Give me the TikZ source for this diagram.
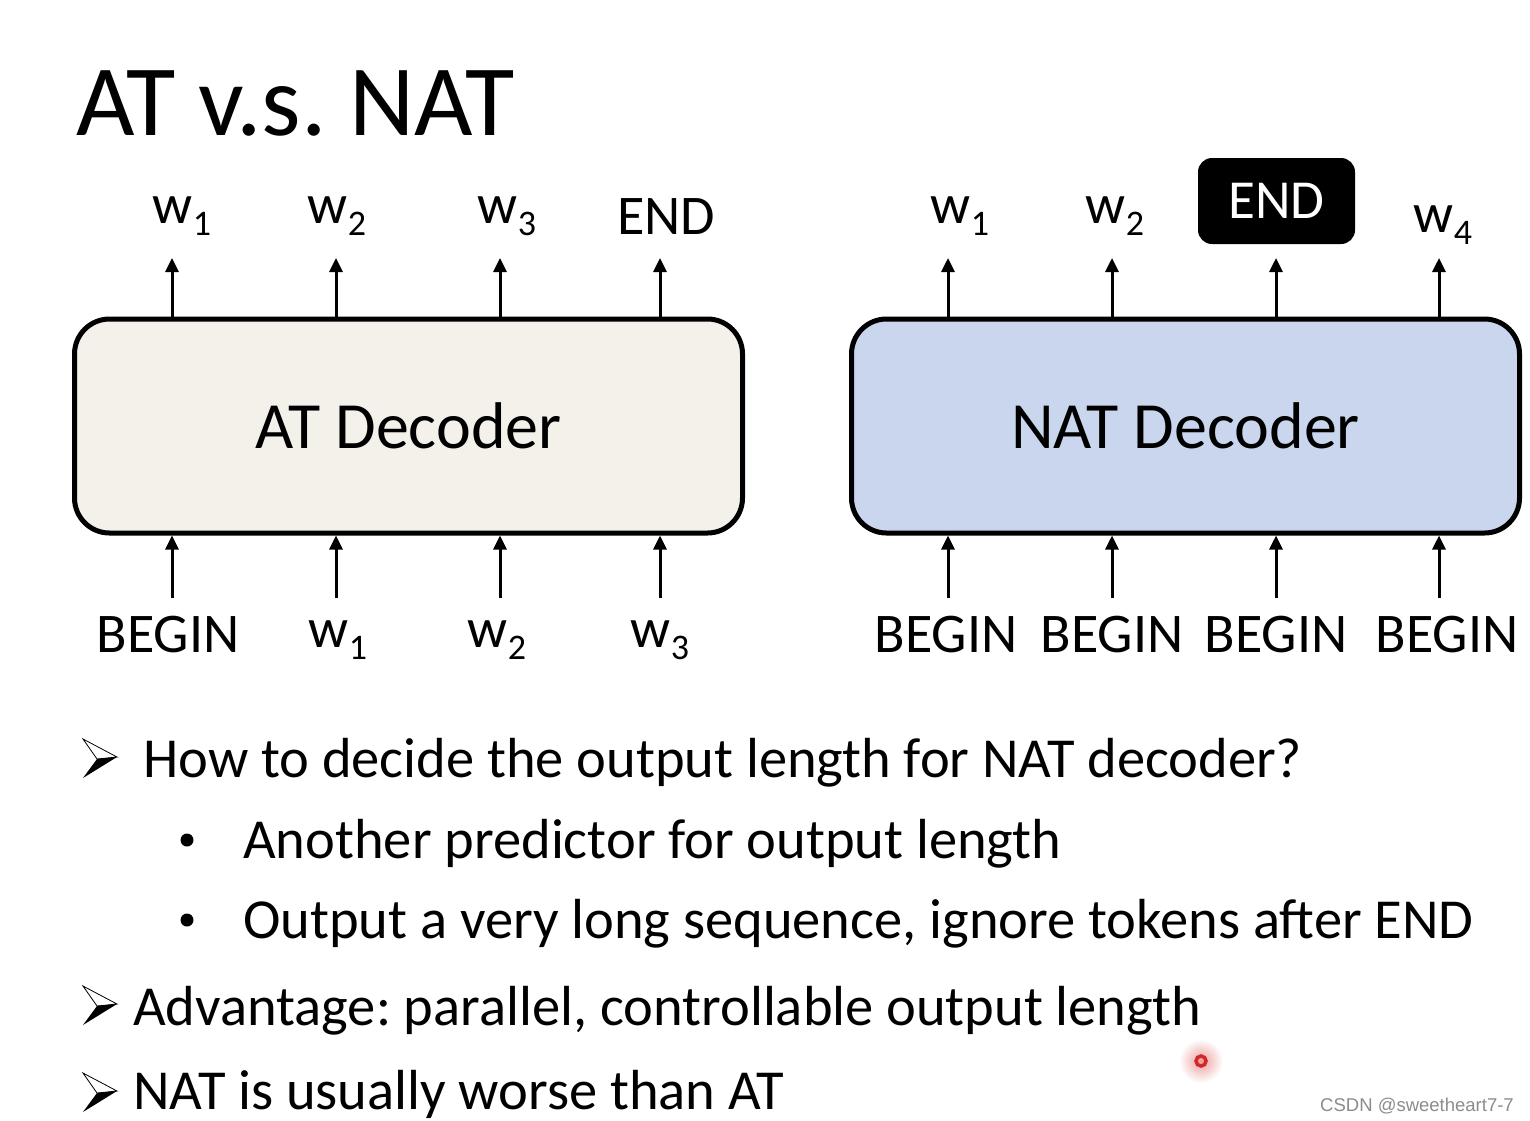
\documentclass[tikz,border=0pt]{standalone}
\usepackage{fontspec}
\setmainfont{Carlito}
\newfontfamily\wmfont{Liberation Sans}
\usetikzlibrary{arrows.meta}
\definecolor{atfill}{RGB}{244,240,234}
\definecolor{natfill}{RGB}{201,214,238}
\definecolor{wmgray}{RGB}{140,140,140}
\definecolor{dotred}{RGB}{212,40,40}
\newcommand{\wsub}[2]{#1\raisebox{-12pt}{\fontsize{36}{38}\selectfont #2}}
\frenchspacing
\tikzset{
  decbox/.style={draw, line width=5pt, rounded corners=35pt, minimum width=668pt,
    minimum height=214pt, inner sep=0pt, font=\fontsize{66}{68}\selectfont},
  lbl/.style={font=\fontsize{56}{60}\selectfont, inner sep=0pt, anchor=base},
  arr/.style={line width=3pt, -{Triangle[width=13pt,length=14pt]}},
  btxt/.style={font=\fontsize{56.5}{58}\selectfont, inner sep=0pt, anchor=base west},
  endbox/.style={fill=black, rounded corners=14pt, minimum width=157pt, minimum height=86pt,
    inner sep=0pt, text=white, font=\fontsize{55}{58}\selectfont},
  barrow/.pic={
    \draw[line width=0.8pt, fill=white, line join=miter] (0,0) -- (34,18) -- (14,20) -- cycle;
    \fill[black] (14,20) -- (34,18) -- (0,39) -- cycle;
  }
}
\begin{document}
\begin{tikzpicture}[x=1pt,y=-1pt]
\useasboundingbox (0,0) rectangle (1530,1120);
\fill[white] (0,0) rectangle (1530,1120);

% title
\node[font=\fontsize{101}{104}\selectfont, inner sep=0pt, anchor=base west] (title) at (76,135) {AT v.s. NAT};

% decoder boxes
\node[decbox, fill=atfill] (at) at (408.5,426) {AT Decoder};
\node[decbox, fill=natfill] (nat) at (1185.5,426) {NAT Decoder};

% AT top labels
\node[lbl] (ato1) at (182,223) {\wsub{w}{1}};
\node[lbl] (ato2) at (337,223) {\wsub{w}{2}};
\node[lbl] (ato3) at (507,223) {\wsub{w}{3}};
\node[lbl] (ato4) at (666,234) {END};
% AT bottom labels
\node[lbl] (ati1) at (168,652) {BEGIN};
\node[lbl] (ati2) at (338,647) {\wsub{w}{1}};
\node[lbl] (ati3) at (497,647) {\wsub{w}{2}};
\node[lbl] (ati4) at (660,647) {\wsub{w}{3}};

% NAT top labels
\node[lbl] (nto1) at (960,223) {\wsub{w}{1}};
\node[lbl] (nto2) at (1115,223) {\wsub{w}{2}};
\node[endbox] (nto3) at (1276.5,201) {END};
\node[lbl] (nto4) at (1443,232) {\wsub{w}{4}};
% NAT bottom labels
\node[lbl] (nti1) at (946,652) {BEGIN};
\node[lbl] (nti2) at (1112,652) {BEGIN};
\node[lbl] (nti3) at (1276,652) {BEGIN};
\node[lbl] (nti4) at (1447,652) {BEGIN};

% arrow end coordinates
\foreach \i/\x in {1/172,2/336,3/500,4/660}{
  \coordinate (atT\i) at (\x,258);
  \coordinate (atB\i) at (\x,598);
}
\foreach \i/\x in {1/948,2/1112,3/1276,4/1439}{
  \coordinate (ntT\i) at (\x,258);
  \coordinate (ntB\i) at (\x,598);
}
\foreach \i in {1,...,4}{
  \draw[arr] (at.north -| atT\i) -- (atT\i);
  \draw[arr] (atB\i) -- (at.south -| atB\i);
  \draw[arr] (nat.north -| ntT\i) -- (ntT\i);
  \draw[arr] (ntB\i) -- (nat.south -| ntB\i);
}

% bullets
\pic at (83,739) {barrow};
\node[btxt] (b1) at (143,777) {How to decide the output length for NAT decoder?};
\fill (187,840) circle (6.5);
\node[btxt] (b1a) at (243,858) {Another predictor for output length};
\fill (187,920) circle (6.5);
\node[btxt] (b1b) at (243,938) {Output a very long sequence, ignore tokens after END};
\pic at (83,986) {barrow};
\node[btxt] (b2) at (133,1025) {Advantage: parallel, controllable output length};
\pic at (83,1073) {barrow};
\node[btxt] (b3) at (133,1109) {NAT is usually worse than AT};

% red pointer dot
\shade[inner color=dotred!45, outer color=white] (1201,1061) circle (22);
\draw[dotred, line width=3.5pt] (1201,1061) circle (5);

% watermark
\node[font=\wmfont\fontsize{18.5}{20}\selectfont, text=wmgray, inner sep=0pt, anchor=base east] (wm) at (1514,1111) {CSDN @sweetheart7-7};
\end{tikzpicture}
\end{document}
